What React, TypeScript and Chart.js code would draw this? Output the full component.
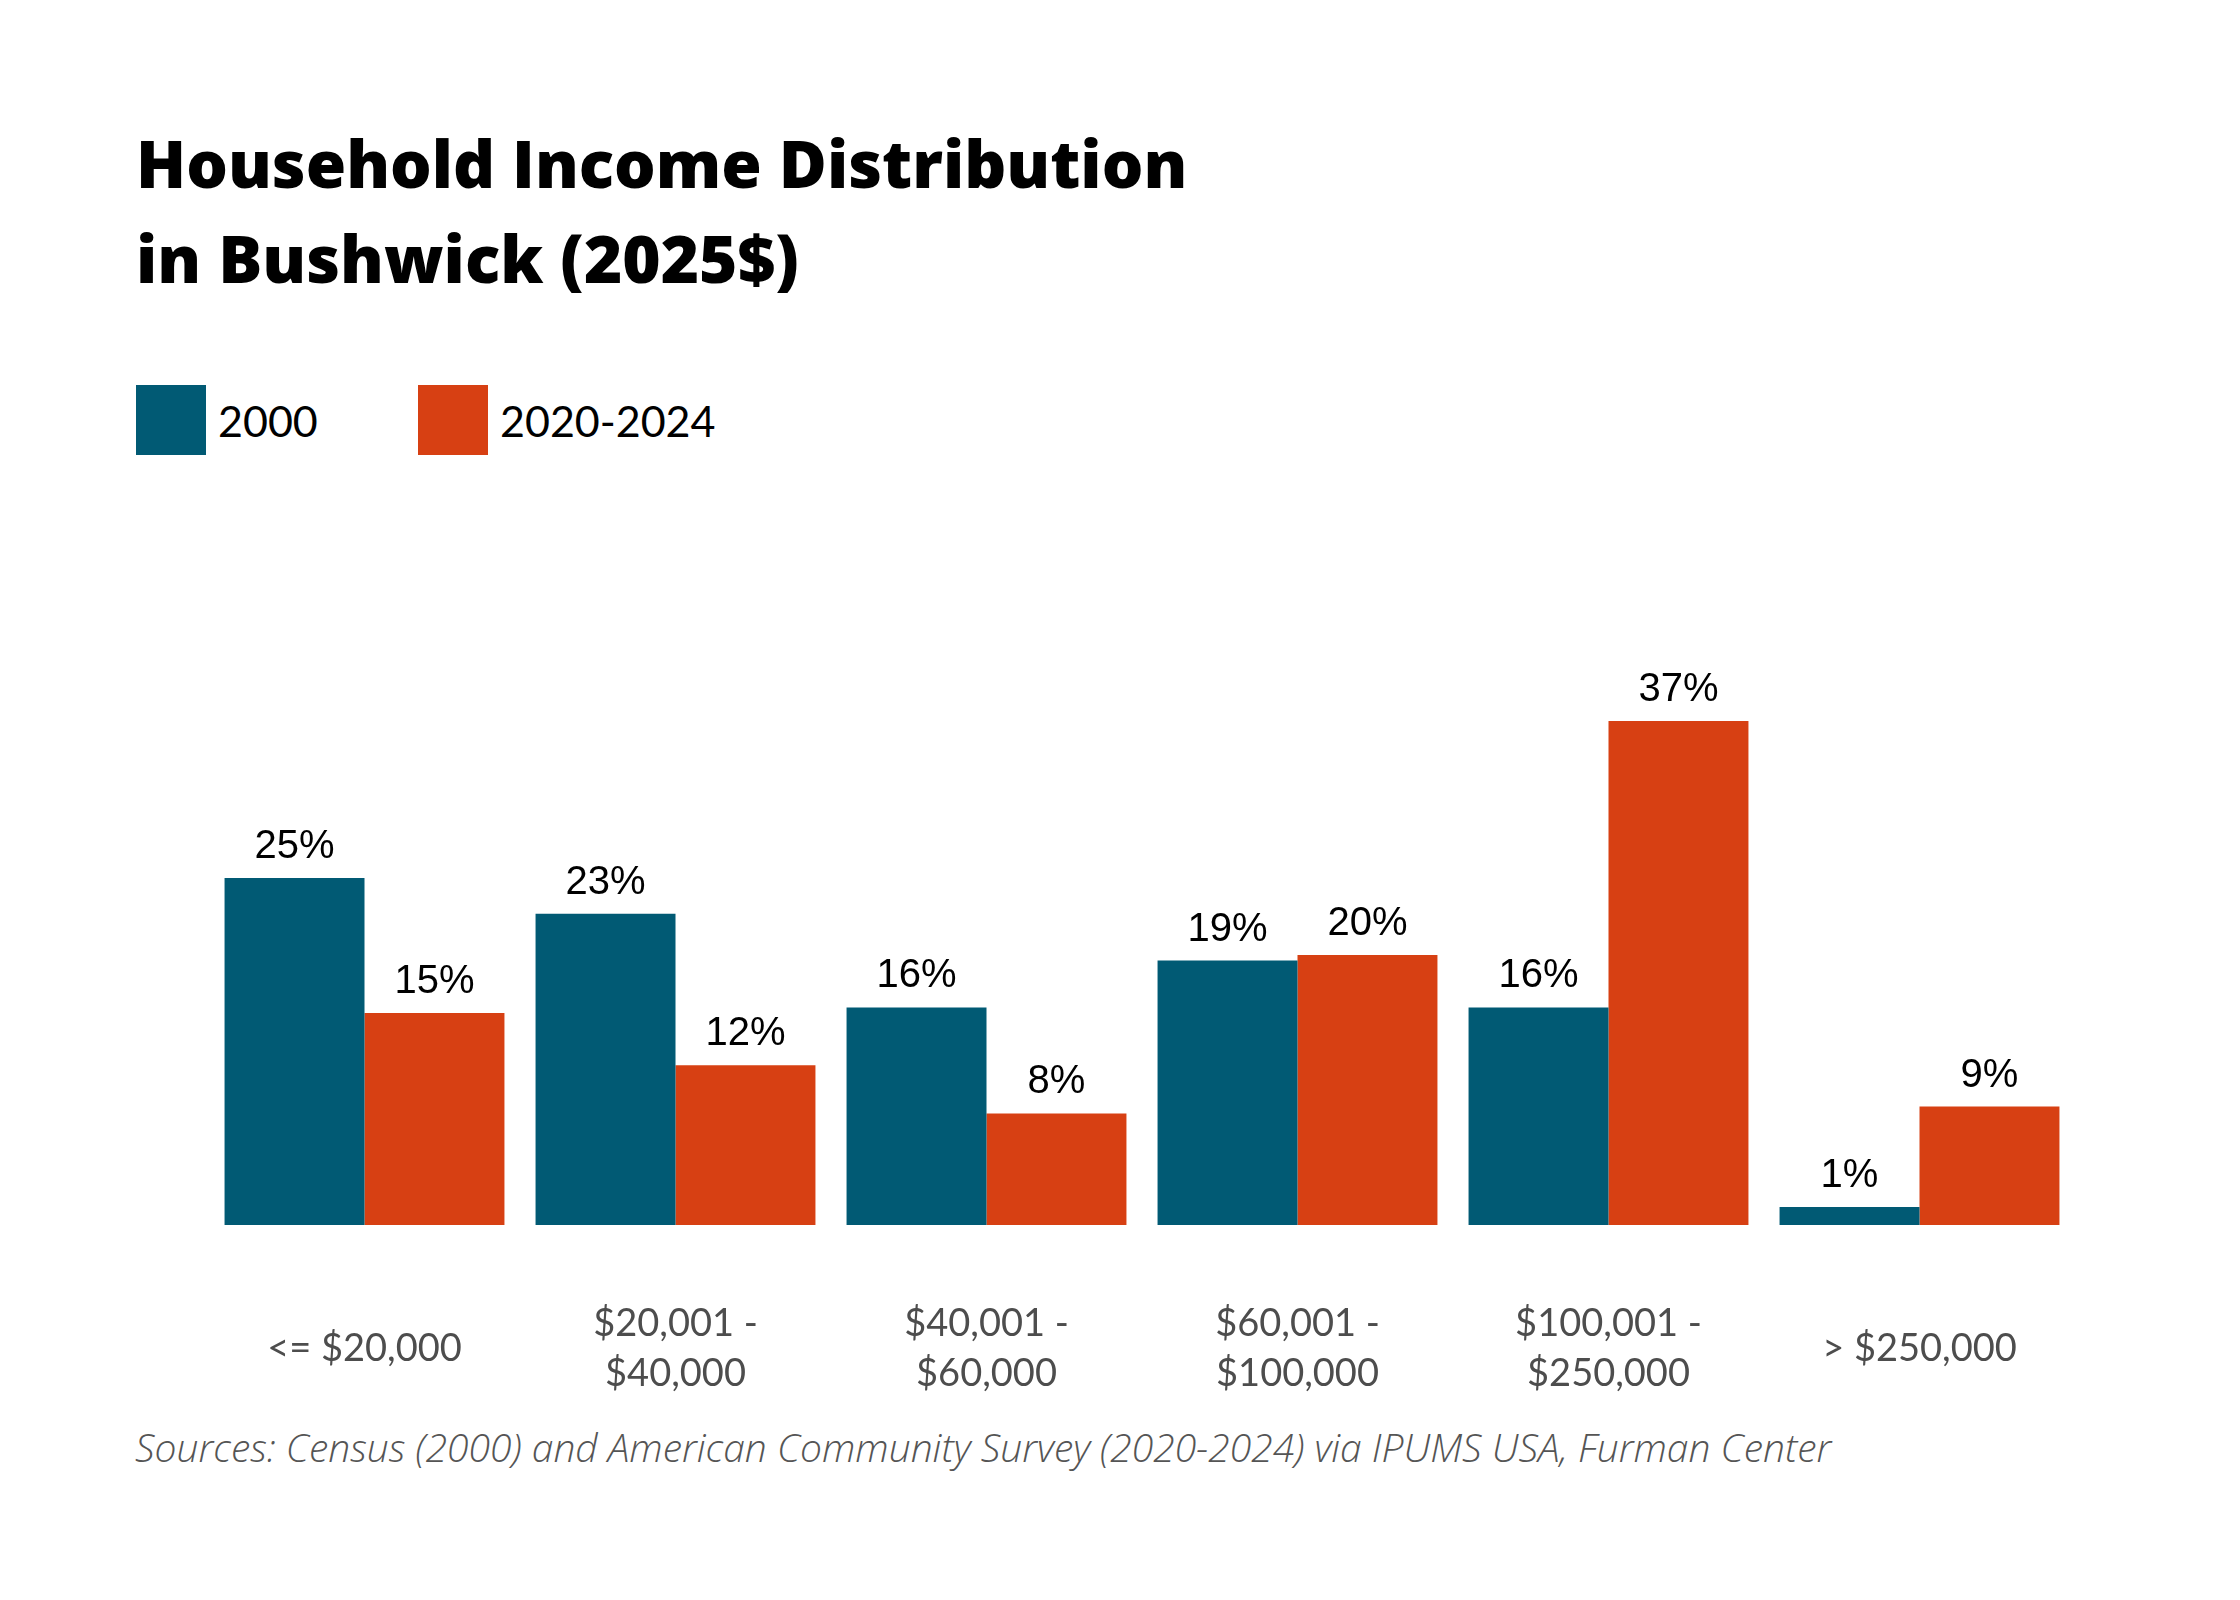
import React, { useEffect, useRef } from 'react';
import { Chart, registerables, Plugin } from 'chart.js';

Chart.register(...registerables);

// income brackets (multi-line labels as arrays)
const categories: (string | string[])[] = [
  '<= $20,000',
  ['$20,001 -', '$40,000'],
  ['$40,001 -', '$60,000'],
  ['$60,001 -', '$100,000'],
  ['$100,001 -', '$250,000'],
  '> $250,000',
];

// share of households, %
const share2000 = [25.2, 22.6, 15.8, 19.2, 15.8, 1.3];
const share2020 = [15.4, 11.6, 8.1, 19.6, 36.6, 8.6];

const seriesNames = ['2000', '2020-2024'];
const BLUE = '#015a74';
const ORANGE = '#d74013';

// percentage labels above each bar
const barLabels: Plugin<'bar'> = {
  id: 'barLabels',
  afterDatasetsDraw(chart) {
    const { ctx } = chart;
    ctx.save();
    ctx.font = '40px "Liberation Sans", Arial, sans-serif';
    ctx.fillStyle = '#000';
    ctx.textAlign = 'center';
    ctx.textBaseline = 'alphabetic';
    chart.data.datasets.forEach((ds, i) => {
      chart.getDatasetMeta(i).data.forEach((bar, j) => {
        const v = ds.data[j] as number;
        ctx.fillText(`${Math.round(v)}%`, bar.x, bar.y - 20);
      });
    });
    ctx.restore();
  },
};

const IncomeChart: React.FC = () => {
  const canvasRef = useRef<HTMLCanvasElement | null>(null);
  const chartRef = useRef<Chart | null>(null);

  useEffect(() => {
    if (!canvasRef.current) return;
    const ctx = canvasRef.current.getContext('2d');
    if (!ctx) return;
    if (chartRef.current) chartRef.current.destroy();

    chartRef.current = new Chart(ctx, {
      type: 'bar',
      data: {
        labels: categories,
        datasets: [
          { label: seriesNames[0], data: share2000, backgroundColor: BLUE, borderWidth: 0 },
          { label: seriesNames[1], data: share2020, backgroundColor: ORANGE, borderWidth: 0 },
        ],
      },
      options: {
        responsive: true,
        maintainAspectRatio: false,
        animation: false,
        layout: { padding: { left: 201, right: 157, top: 56.5, bottom: 0 } },
        datasets: { bar: { categoryPercentage: 0.9, barPercentage: 1 } },
        plugins: {
          legend: { display: false },
          title: { display: false },
          tooltip: { enabled: false },
        },
        scales: {
          x: {
            grid: { display: false },
            border: { display: false },
            ticks: {
              color: '#4d4d4d',
              font: { family: 'Lato, sans-serif', size: 38, lineHeight: 1.316 },
              padding: 91,
              crossAlign: 'center',
              autoSkip: false,
              maxRotation: 0,
            },
            afterFit: (scale) => {
              scale.height = 185;
            },
          },
          y: { display: false, min: 0, max: 50 },
        },
      },
      plugins: [barLabels],
    });

    return () => {
      if (chartRef.current) {
        chartRef.current.destroy();
        chartRef.current = null;
      }
    };
  }, []);

  return (
    <div style={{ position: 'absolute', left: 0, top: 472, width: 2224, height: 930 }}>
      <canvas ref={canvasRef}></canvas>
    </div>
  );
};

const legendText: React.CSSProperties = {
  position: 'absolute',
  top: 377,
  height: 70,
  display: 'flex',
  alignItems: 'center',
  fontSize: 43,
  color: '#000',
};

export default function App() {
  return (
    <div
      style={{
        position: 'relative',
        width: 2224,
        height: 1584,
        background: '#fff',
        fontFamily: 'Lato, sans-serif',
        overflow: 'hidden',
      }}
    >
      <div
        style={{
          position: 'absolute',
          left: 128,
          top: 107,
          fontFamily: '"Open Sans", sans-serif',
          fontSize: 65.5,
          lineHeight: '95px',
          fontWeight: 800,
          color: '#000',
          whiteSpace: 'nowrap',
        }}
      >
        Household Income Distribution
        <br />
        in Bushwick (2025$)
      </div>

      <div style={{ position: 'absolute', left: 128, top: 377, width: 70, height: 70, background: BLUE }} />
      <div style={{ ...legendText, left: 210 }}>{seriesNames[0]}</div>
      <div style={{ position: 'absolute', left: 410, top: 377, width: 70, height: 70, background: ORANGE }} />
      <div style={{ ...legendText, left: 492 }}>{seriesNames[1]}</div>

      <IncomeChart />

      <div
        style={{
          position: 'absolute',
          left: 127,
          top: 1416,
          fontFamily: '"Open Sans", sans-serif',
          fontSize: 39,
          lineHeight: 1.2,
          fontStyle: 'italic',
          fontWeight: 300,
          color: '#555',
          whiteSpace: 'nowrap',
        }}
      >
        Sources: Census (2000) and American Community Survey (2020-2024) via IPUMS USA, Furman Center
      </div>
    </div>
  );
}
